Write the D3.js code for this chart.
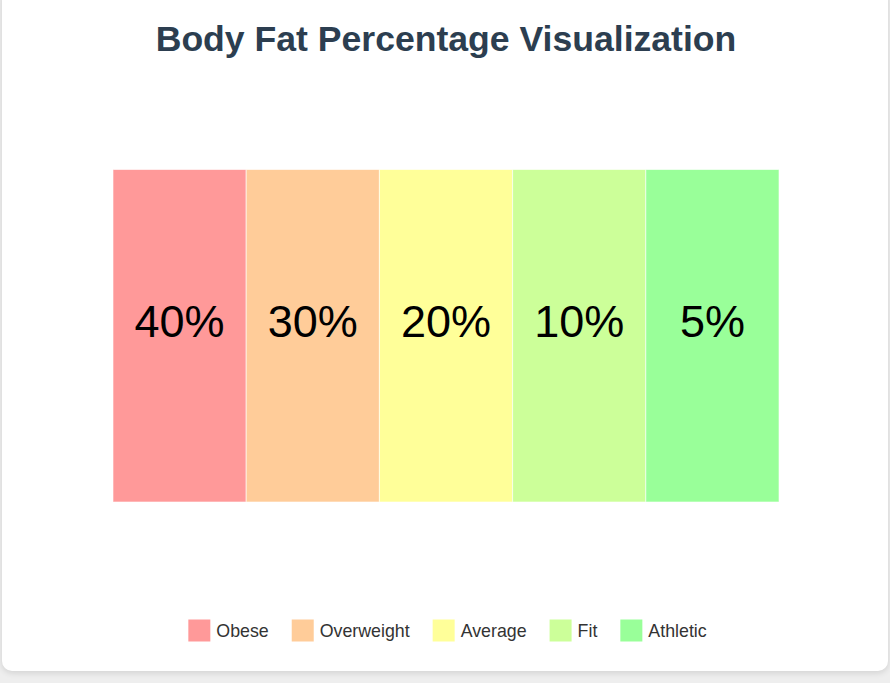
<!DOCTYPE html>
<html>
<head>
<meta charset="utf-8">
<script src="https://cdn.jsdelivr.net/npm/d3@7"></script>
<style>
  html, body { margin: 0; padding: 0; background: #eeeeee; width: 890px; height: 683px; overflow: hidden; }
  #card { position: absolute; left: 2px; top: -12px; width: 886px; height: 683px; background: #fff; border-radius: 10px; box-shadow: 0 2px 6px rgba(0,0,0,0.12); }
  svg { position: absolute; left: 0; top: 0; }
</style>
</head>
<body>
<div id="card"></div>
<svg id="chart" width="890" height="683"></svg>
<script>
const categories = ["Obese", "Overweight", "Average", "Fit", "Athletic"];
const values = [40, 30, 20, 10, 5];
const labels = ["40%", "30%", "20%", "10%", "5%"];
const colors = ["#ff9999", "#ffcc99", "#ffff99", "#ccff99", "#99ff99"];

(function () {
const svg = d3.select("#chart");

svg.append("text")
  .attr("x", 446).attr("y", 51)
  .attr("text-anchor", "middle")
  .style("font-family", "Liberation Sans, Arial, sans-serif")
  .style("font-weight", "bold")
  .style("font-size", "35.6px")
  .style("fill", "#2c3e50")
  .text("Body Fat Percentage Visualization");

const x = d3.scaleBand().domain(categories).range([113, 779]).padding(0);
const color = d3.scaleOrdinal().domain(categories).range(colors);
const y0 = 169.5, y1 = 502;

svg.selectAll("rect.seg").data(categories).enter().append("rect")
  .attr("class", "seg")
  .attr("x", d => x(d))
  .attr("y", y0)
  .attr("width", x.bandwidth())
  .attr("height", y1 - y0)
  .attr("fill", d => color(d))
  .attr("stroke", "rgba(255,255,255,0.6)")
  .attr("stroke-width", 1);

svg.selectAll("text.val").data(categories).enter().append("text")
  .attr("class", "val")
  .attr("x", d => x(d) + x.bandwidth() / 2)
  .attr("y", (y0 + y1) / 2 + 1)
  .attr("text-anchor", "middle")
  .style("font-family", "Liberation Sans, Arial, sans-serif")
  .style("font-size", "45px")
  .style("fill", "#000")
  .text((d, i) => labels[i]);

// legend
const lg = svg.append("g");
const sw = 22, gapText = 6, gapItem = 23;
let cx = 0;
const items = lg.selectAll("g.item").data(categories).enter().append("g").attr("class", "item");
items.append("rect")
  .attr("width", sw).attr("height", sw)
  .attr("y", 619.5)
  .attr("fill", d => color(d));
items.append("text")
  .attr("x", sw + gapText)
  .attr("y", 630.5).attr("dy", "0.35em")
  .style("font-family", "Liberation Sans, Arial, sans-serif")
  .style("font-size", "17.8px")
  .style("fill", "#333")
  .text(d => d);
items.each(function() {
  const t = d3.select(this).select("text").node().getComputedTextLength();
  d3.select(this).attr("transform", `translate(${cx},0)`);
  cx += sw + gapText + t + gapItem;
});
const total = cx - gapItem;
lg.attr("transform", `translate(${447.5 - total / 2},0)`);
})();
</script>
</body>
</html>
